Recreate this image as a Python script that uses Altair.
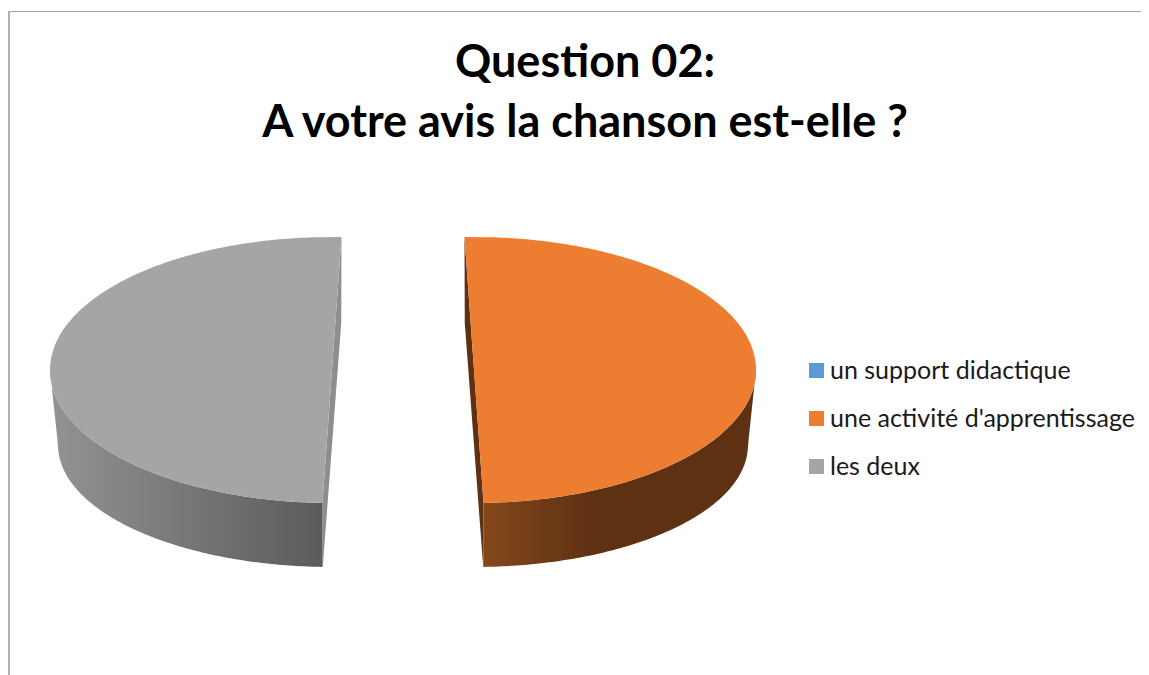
import numpy as np
import pandas as pd
import altair as alt

# ---- chart values
categories = ["un support didactique", "une activité d'apprentissage", "les deux"]
shares = [0, 50, 50]
colors = ["#5B9BD5", "#ED7D31", "#A5A5A5"]
wall_stops = {
    "une activité d'apprentissage": [(0, "#84471A"), (0.4, "#5E3113"), (1, "#5E3113")],
    "les deux": [(0, "#939393"), (1, "#5B5B5B")],
}
cut_colors = {"une activité d'apprentissage": "#5E3113", "les deux": "#8E8E8E"}
title_lines = ["Question 02:", "A votre avis la chanson est-elle ?"]

# ---- 3D pie geometry (in page pixels minus the 8px margin)
W, H = 1133, 667
PIE_X, EXPLODE = 395, 71
CY, A, B = 362, 282, 133      # top face
CY2, A2, B2 = 437, 274, 122   # bottom face
SKEW = 1.93

faces, walls, cuts = [], [], []
layers = []
start = 90.0
for cat, share in zip(categories, shares):
    span = share / 100 * 360
    if span == 0:
        continue
    mid = start - span / 2
    side = 1 if np.cos(np.radians(mid)) > 0 else -1
    cx = PIE_X + side * EXPLODE
    t0 = mid + span / 2 + side * SKEW
    t1 = t0 - span
    t = np.linspace(t0, t1, 241)
    r = np.radians(t)
    x = cx + A * np.cos(r)
    y = CY - B * np.sin(r)
    order = np.argsort([y[0], y[-1]])
    ends_y = np.array([y[0], y[-1]])[order]
    ends_x = np.array([x[0], x[-1]])[order]
    chord = np.interp(y, ends_y, ends_x)
    faces.append(pd.DataFrame({"cat": cat, "x": x, "x2": chord, "y": y}))

    front = t[np.sin(r) < 0]
    fr = np.radians(front)
    wx = cx + A * np.cos(fr)
    wy = CY - B * np.sin(fr)
    dx = np.abs(wx - cx)
    tip_y = CY
    wy2 = np.where(
        dx <= A2,
        CY2 + B2 * np.sqrt(np.clip(1 - (dx / A2) ** 2, 0, 1)),
        CY2 + (dx - A2) / (A - A2) * (tip_y - CY2),
    )
    walls.append((cat, pd.DataFrame({"x": wx, "y": wy, "y2": wy2})))

    top_y, front_y = ends_y
    top_x, front_x = ends_x
    back_r = np.radians(t0 if np.sin(np.radians(t0)) > 0 else t1)
    back_x = cx + A2 * np.cos(back_r)
    back_y = CY2 - B2 * np.sin(back_r)
    low_x = cx + A2 * np.cos(np.radians(t0 if np.sin(np.radians(t0)) < 0 else t1))
    low_y = CY2 + B2
    ys = np.array([top_y, back_y, front_y, low_y])
    inner = np.interp(ys, [top_y, front_y], [top_x, front_x])
    outer = np.interp(ys, [top_y, back_y, low_y], [top_x, back_x, low_x])
    cuts.append((cat, pd.DataFrame({"x": outer, "x2": inner, "y": ys})))
    start -= span

xs = alt.Scale(domain=[0, W], range=[0, W], nice=False, zero=False)
ys_ = alt.Scale(domain=[0, H], range=[0, H], nice=False, zero=False)
X = alt.X("x:Q", scale=xs, axis=None)
Y = alt.Y("y:Q", scale=ys_, axis=None)

for cat, d in cuts:
    layers.append(
        alt.Chart(d).mark_area(orient="horizontal", color=cut_colors[cat]).encode(
            x=X, x2="x2:Q", y=Y)
    )
for cat, d in walls:
    layers.append(
        alt.Chart(d).mark_area(
            orient="vertical",
            color=alt.Gradient(
                gradient="linear", x1=0, x2=1, y1=0, y2=0,
                stops=[alt.GradientStop(offset=o, color=c) for o, c in wall_stops[cat]],
            ),
        ).encode(x=X, y=Y, y2="y2:Q")
    )
layers += [
    alt.Chart(f).mark_area(orient="horizontal").encode(
        x=X, x2="x2:Q", y=Y,
        color=alt.Color(
            "cat:N",
            scale=alt.Scale(domain=categories, range=colors),
            legend=alt.Legend(
                title=None, orient="none", legendX=796, legendY=350,
                symbolType="square", symbolSize=225, symbolStrokeWidth=0,
                symbolOpacity=1, labelFont="Lato", labelFontSize=25,
                labelColor="#1a1a1a", labelLimit=400, labelOffset=1,
                rowPadding=22, padding=0,
            ),
        ),
    )
    for f in faces
]
layers += [
    alt.Chart().mark_rule(color="#A0A0A0", strokeWidth=1).encode(
        x=alt.value(1), x2=alt.value(W), y=alt.value(3.5)),
    alt.Chart().mark_rule(color="#B0B0B0", strokeWidth=2).encode(
        x=alt.value(1), y=alt.value(3), y2=alt.value(H)),
]

chart = alt.layer(*layers).properties(
    width=W, height=H, padding=0, background="white",
    autosize=alt.AutoSizeParams(type="none"),
    title=alt.TitleParams(
        text=title_lines, anchor="start", frame="group", align="center",
        font="Lato", fontWeight="bold", fontSize=45, color="#000000",
        lineHeight=60, dx=577, dy=142,
    ),
).configure_view(stroke=None)

chart.save("out.html", embed_options={"renderer": "svg", "actions": False})
